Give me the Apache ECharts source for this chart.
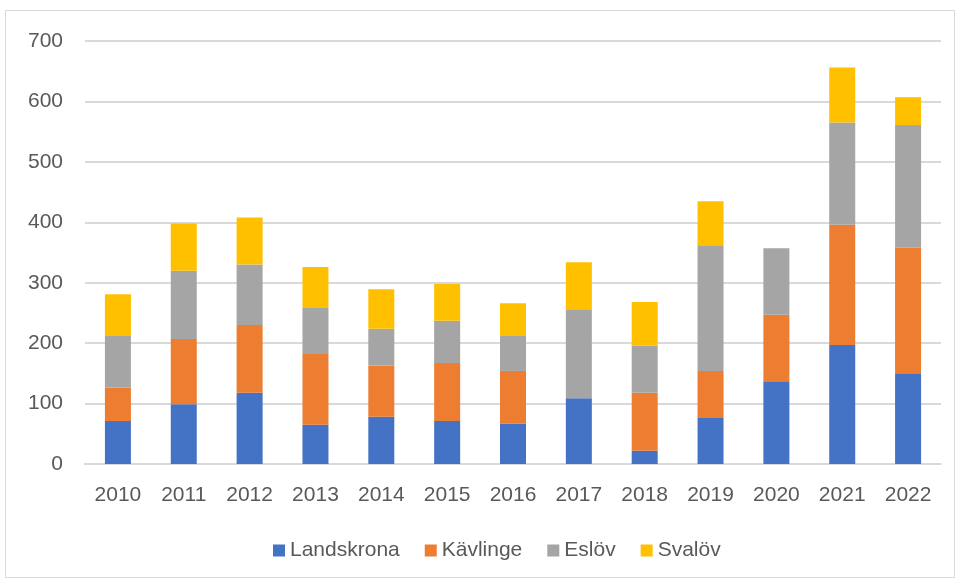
<!DOCTYPE html>
<html>
<head>
<meta charset="utf-8">
<script src="https://cdn.jsdelivr.net/npm/echarts@6/dist/echarts.min.js"></script>
<style>
    html, body { margin: 0; padding: 0; background: #fff; }
    #chart { width: 959px; height: 581px; }
</style>
</head>
<body>
<div id="chart"></div>
<script>
var years = ['2010', '2011', '2012', '2013', '2014', '2015', '2016', '2017', '2018', '2019', '2020', '2021', '2022'];
var landskrona = [71, 99, 118, 65, 78, 71, 67, 109, 22, 76, 137, 197, 150];
var kavlinge = [55, 108, 112, 117, 85, 96, 87, 0, 96, 78, 110, 199, 208];
var eslov = [87, 113, 100, 76, 61, 70, 59, 147, 78, 208, 110, 169, 203];
var svalov = [68, 78, 78, 68, 65, 61, 53, 78, 72, 73, 0, 91, 46];
var yTicks = [0, 100, 200, 300, 400, 500, 600, 700];

var fontName = 'Liberation Sans';
var textColor = '#595959';

function makeSeries(name, data, color) {
    return {
        name: name,
        type: 'bar',
        stack: 'total',
        barWidth: 26,
        data: data,
        itemStyle: { color: color },
        emphasis: { disabled: true }
    };
}

var chart = echarts.init(document.getElementById('chart'));
chart.setOption({
    animation: false,
    backgroundColor: '#fff',
    textStyle: { fontFamily: fontName },
    graphic: [{
        type: 'rect',
        shape: { x: 5.5, y: 10.5, width: 949, height: 567 },
        style: { fill: 'none', stroke: '#d9d9d9', lineWidth: 1 },
        silent: true
    }],
    grid: { left: 85, right: 18, top: 41, bottom: 117 },
    legend: {
        left: 268,
        top: 535,
        itemWidth: 12,
        itemHeight: 12,
        itemGap: 25,
        icon: 'rect',
        textStyle: { fontFamily: fontName, fontSize: 21, color: textColor },
        data: ['Landskrona', 'Kävlinge', 'Eslöv', 'Svalöv']
    },
    xAxis: {
        type: 'category',
        data: years,
        axisTick: { show: false },
        axisLine: { lineStyle: { color: '#d9d9d9', width: 2 } },
        axisLabel: { fontFamily: fontName, fontSize: 21, color: textColor, margin: 21 }
    },
    yAxis: {
        type: 'value',
        min: yTicks[0],
        max: yTicks[yTicks.length - 1],
        interval: 100,
        axisLine: { show: false },
        axisTick: { show: false },
        axisLabel: { fontFamily: fontName, fontSize: 21, color: textColor, margin: 22 },
        splitLine: { lineStyle: { color: '#d9d9d9', width: 2 } }
    },
    series: [
        makeSeries('Landskrona', landskrona, '#4472C4'),
        makeSeries('Kävlinge', kavlinge, '#ED7D31'),
        makeSeries('Eslöv', eslov, '#A5A5A5'),
        makeSeries('Svalöv', svalov, '#FFC000')
    ]
});
</script>
</body>
</html>
